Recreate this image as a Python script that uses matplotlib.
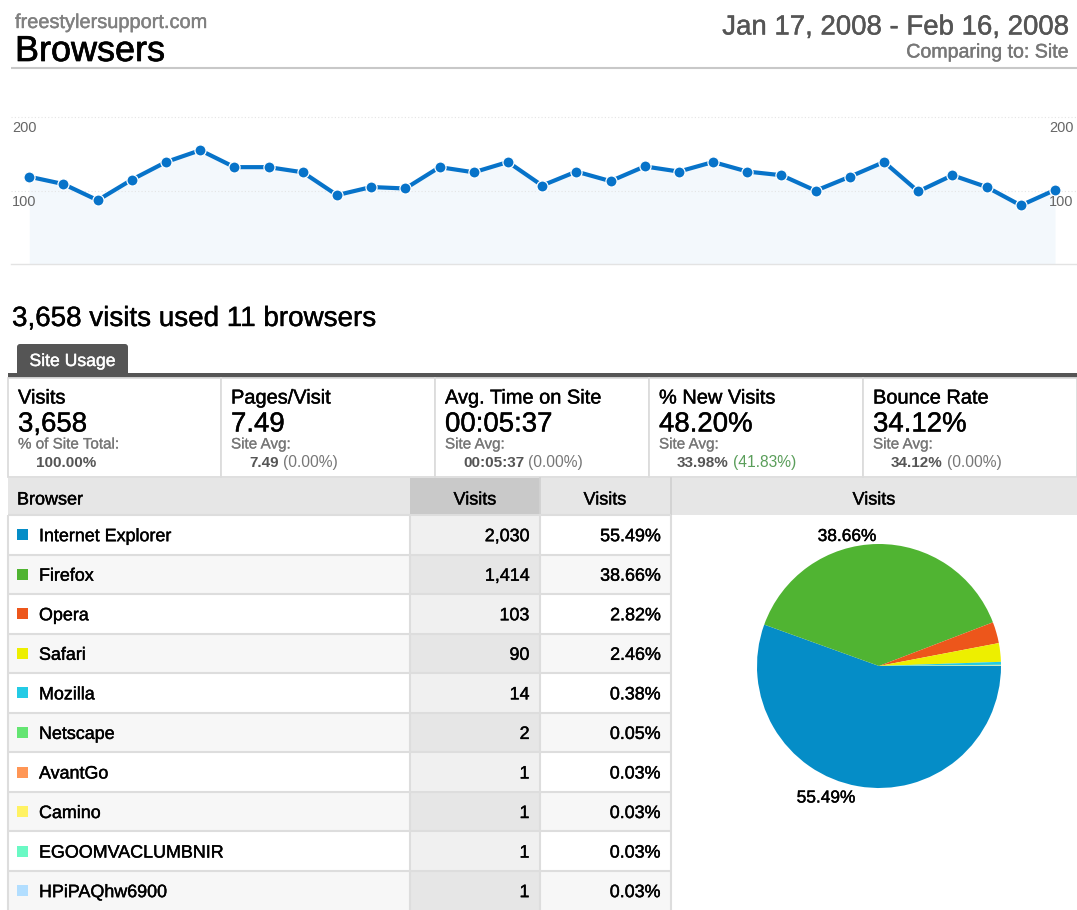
import matplotlib
matplotlib.use('Agg')
import matplotlib.pyplot as plt
from matplotlib.patches import Rectangle, FancyBboxPatch
import matplotlib.patheffects as pe

plt.rcParams['font.family'] = ['Liberation Sans', 'DejaVu Sans']

# ---------------- data ----------------
site_name = 'freestylersupport.com'
report_title = 'Browsers'
date_range = 'Jan 17, 2008 - Feb 16, 2008'
comparing = 'Comparing to: Site'

daily_visits = [119, 109, 87, 115, 139, 155, 132, 132, 125, 94, 105, 103, 132, 125, 139,
                107, 126, 113, 133, 126, 139, 126, 121, 100, 119, 139, 99, 121, 105, 80, 101]
y_ticks = [100, 200]

total_visits = 3658
browser_count = 11

metric_titles = ['Visits', 'Pages/Visit', 'Avg. Time on Site', '% New Visits', 'Bounce Rate']
metric_values = ['3,658', '7.49', '00:05:37', '48.20%', '34.12%']
metric_subs = ['% of Site Total:', 'Site Avg:', 'Site Avg:', 'Site Avg:', 'Site Avg:']
metric_avgs = ['100.00%', '7.49', '00:05:37', '33.98%', '34.12%']
metric_deltas = ['', '(0.00%)', '(0.00%)', '(41.83%)', '(0.00%)']
metric_delta_colors = ['#777777', '#777777', '#777777', '#5a9e5a', '#777777']

browsers = ['Internet Explorer', 'Firefox', 'Opera', 'Safari', 'Mozilla', 'Netscape',
            'AvantGo', 'Camino', 'EGOOMVACLUMBNIR', 'HPiPAQhw6900']
visits = [2030, 1414, 103, 90, 14, 2, 1, 1, 1, 1]
colors = ['#058dc7', '#50b432', '#ed561b', '#edef00', '#24cbe5', '#64e572',
          '#ff9655', '#fff263', '#6af9c4', '#b2deff']
pct_labels = ['%.2f%%' % (v / total_visits * 100) for v in visits]

# ---------------- figure ----------------
W, H = 1077, 910
fig = plt.figure(figsize=(W / 100, H / 100), dpi=100)


def pax(x0, y0, x1, y1):
    return fig.add_axes([x0 / W, 1 - y1 / H, (x1 - x0) / W, (y1 - y0) / H])


def PT(px):
    return px * 0.72


bg = pax(0, 0, W, H)
bg.set_xlim(0, W)
bg.set_ylim(H, 0)
bg.axis('off')


def txt(x, y, s, px, color='black', ha='left', weight='normal', va='baseline', heavy=0.3):
    t = bg.text(x, y, s, fontsize=PT(px), color=color, ha=ha, va=va, fontweight=weight)
    if heavy:
        t.set_path_effects([pe.withStroke(linewidth=heavy, foreground=color)])
    return t


# header
txt(15, 28, site_name, 20, '#808080')
txt(15, 61, report_title, 36, '#000000', heavy=0.5)
txt(1069.5, 34.5, date_range, 27.6, '#555555', ha='right')
txt(1069.5, 57.5, comparing, 19.6, '#777777', ha='right')
bg.plot([11, 1077], [67.5, 67.5], color='#c8c8c8', lw=1.5, solid_capstyle='butt')

# headline
txt(12, 326, '%s visits used %d browsers' % (format(total_visits, ','), browser_count), 27.8)

# tab + bar
bg.add_patch(FancyBboxPatch((17, 344), 111, 34, boxstyle='round,pad=0,rounding_size=3',
                            facecolor='#555555', edgecolor='none'))
txt(72.5, 366, 'Site Usage', 17.6, 'white', ha='center')
bg.add_patch(Rectangle((8, 372.5), 1069, 5, facecolor='#555555', edgecolor='none'))

# metric boxes
box_x = [8, 221, 435, 649, 863, 1077]
for i in range(5):
    x0 = box_x[i]
    bg.add_patch(Rectangle((x0, 377.5), box_x[i + 1] - x0, 99.5, facecolor='white',
                           edgecolor='#dcdcdc', lw=1.3))
for i in range(5):
    x0 = box_x[i]
    txt(x0 + 10, 403.5, metric_titles[i], 20)
    txt(x0 + 10, 431.5, metric_values[i], 27.6)
    txt(x0 + 10, 448.5, metric_subs[i], 15.2, '#777777', heavy=0.15)
    t = txt(x0 + 28, 467, metric_avgs[i], 15.3, '#555555', weight='bold', heavy=0)
    if metric_deltas[i]:
        bg.annotate(metric_deltas[i], xy=(1, 0), xycoords=t, xytext=(3, 0),
                    textcoords='offset points', ha='left', va='bottom',
                    fontsize=PT(15.6), color=metric_delta_colors[i])

# table header
hdr_top, hdr_bot = 477.5, 515
bg.add_patch(Rectangle((8, hdr_top), 1069, hdr_bot - hdr_top, facecolor='#e6e6e6', edgecolor='none'))
bg.add_patch(Rectangle((410, hdr_top), 130, hdr_bot - hdr_top, facecolor='#c9c9c9', edgecolor='none'))
for xv in [540, 671]:
    bg.plot([xv, xv], [hdr_top, hdr_bot], color='#d2d2d2', lw=1.3)
txt(17, 504.5, 'Browser', 18)
txt(475, 504.5, 'Visits', 18, ha='center')
txt(605, 504.5, 'Visits', 18, ha='center')
txt(874, 504.5, 'Visits', 18, ha='center')

# table rows
row_h = 39.55
for i, (name, v, c, p) in enumerate(zip(browsers, visits, colors, pct_labels)):
    top = hdr_bot + i * row_h
    cy = top + row_h / 2
    shade = (i % 2 == 1)
    bg.add_patch(Rectangle((8, top), 662, row_h, facecolor='#f7f7f7' if shade else 'white',
                           edgecolor='none'))
    bg.add_patch(Rectangle((410, top), 130, row_h, facecolor='#e6e6e6' if shade else '#f0f0f0',
                           edgecolor='none'))
    bg.plot([8, 671], [top, top], color='#dddddd', lw=1.5, solid_capstyle='butt')
    bg.add_patch(Rectangle((17, cy - 5.5), 11, 11, facecolor=c, edgecolor='none'))
    txt(39, cy + 6.4, name, 17.9)
    txt(529.5, cy + 6.4, format(v, ','), 17.9, ha='right')
    txt(660.5, cy + 6.4, p, 17.9, ha='right')
for xv in [8, 410, 540, 671]:
    bg.plot([xv, xv], [hdr_bot, H], color='#dddddd', lw=1.5, solid_capstyle='butt')

# ---------------- line chart ----------------
x0p, x1p = 11, 1076
first_px, last_px = 29.3, 1055
step = (last_px - first_px) / (len(daily_visits) - 1)
top_px, base_px, px_per_unit = 100, 264.3, 0.736
ax = pax(x0p, top_px, x1p, base_px)
ax.set_facecolor('none')
xs = list(range(len(daily_visits)))
ax.set_xlim(-(first_px - x0p) / step, (len(daily_visits) - 1) + (x1p - last_px) / step)
ax.set_ylim(0, (base_px - top_px) / px_per_unit)
for yv in y_ticks:
    ax.axhline(yv, color='#e4e4e4', lw=0.8, ls=(0, (1, 2)), zorder=1)
ax.fill_between(xs, daily_visits, 0, color='#f3f8fc', lw=0, zorder=0.5)
ax.plot(xs, daily_visits, color='#0773c9', lw=3.0, marker='o', ms=8.0,
        mfc='#0773c9', mec='white', mew=0.9, solid_joinstyle='round', zorder=3, clip_on=False)
ax.axhline(0, color='#e3e3e3', lw=1.0, zorder=1, clip_on=False)
for s in ax.spines.values():
    s.set_visible(False)
ax.set_xticks([])
ax.set_yticks([])
for yv in y_ticks:
    ax.annotate(str(yv), xy=(0, yv), xycoords=('axes fraction', 'data'), xytext=(0.7, -11.0),
                textcoords='offset points', ha='left', va='baseline', fontsize=PT(14.5), color='#666666')
    ax.annotate(str(yv), xy=(1, yv), xycoords=('axes fraction', 'data'), xytext=(-2, -11.0),
                textcoords='offset points', ha='right', va='baseline', fontsize=PT(14.5), color='#666666')

# ---------------- pie ----------------
cx, cy, r = 879, 666, 122
pa = pax(cx - r, cy - r, cx + r, cy + r)
pa.pie(visits, colors=colors, startangle=0, counterclock=False, radius=1,
       wedgeprops=dict(linewidth=0))
pa.set_xlim(-1, 1)
pa.set_ylim(-1, 1)
pa.set_aspect('equal')
pa.axis('off')
txt(847, 541, pct_labels[1], 17.3, ha='center')
txt(826, 802.5, pct_labels[0], 17.3, ha='center')

fig.savefig('out.png', dpi=100)
